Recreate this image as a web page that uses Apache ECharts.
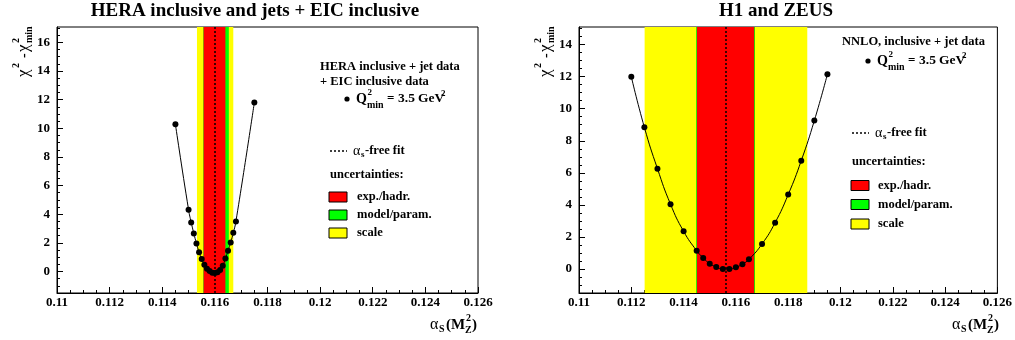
<!DOCTYPE html>
<html lang="en" style="height: 100%">
<head>
<meta charset="utf-8">
<title>alpha_s chi2 scans</title>
</head>
<body style="height: 100%; margin: 0; background: #fff">
<div id="container" style="width: 1015px; height: 340px"></div>

<script type="text/javascript" src="https://cdn.jsdelivr.net/npm/echarts@6/dist/echarts.min.js"></script>

<script type="text/javascript">

// left panel: HERA inclusive and jets + EIC inclusive
var alphaLeft = [0.1145, 0.1150, 0.1151, 0.1152, 0.1153, 0.1154, 0.1155, 0.1156, 0.1157, 0.1158,
                 0.1159, 0.1160, 0.1161, 0.1162, 0.1163, 0.1164, 0.1165, 0.1166, 0.1167, 0.1168, 0.1175];
var chi2Left  = [10.28, 4.31, 3.43, 2.66, 1.96, 1.35, 0.87, 0.47, 0.19, 0.03,
                 -0.08, -0.1, -0.05, 0.1, 0.4, 0.9, 1.45, 2.03, 2.7, 3.5, 11.8];
var fitLeft = 0.11601;
var expLeft = [0.11557, 0.11640];
var modelLeft = [0.11556, 0.11653];
var scaleLeft = [0.11532, 0.11670];

// right panel: H1 and ZEUS
var alphaRight = [0.1120, 0.1125, 0.1130, 0.1135, 0.1140, 0.1145, 0.11475, 0.1150, 0.11525, 0.1155,
                  0.11575, 0.1160, 0.11625, 0.1165, 0.1170, 0.1175, 0.1180, 0.1185, 0.1190, 0.1195];
var chi2Right  = [12.0, 8.84, 6.26, 4.04, 2.35, 1.14, 0.69, 0.33, 0.12, 0.0,
                  0.0, 0.1, 0.3, 0.6, 1.56, 2.89, 4.64, 6.76, 9.26, 12.15];
var fitRight = 0.1156;
var expRight = [0.11451, 0.11670];
var modelRight = [0.11448, 0.11673];
var scaleRight = [0.11251, 0.11873];

// axis ticks
var xTicks = [0.11, 0.112, 0.114, 0.116, 0.118, 0.12, 0.122, 0.124, 0.126];
var yTicksLeft = [0, 2, 4, 6, 8, 10, 12, 14, 16];
var yTicksRight = [0, 2, 4, 6, 8, 10, 12, 14];

var FONT = '"Liberation Serif", "DejaVu Serif", serif';

function steps(a, b, d) {
  var out = [];
  for (var v = a; v <= b + 1e-9; v += d) out.push(+v.toFixed(6));
  return out;
}
var xMinor = steps(0.11, 0.126, 0.0005);
var yMinor = steps(-1.5, 17, 0.5);

function pairs(xs, ys) {
  return xs.map(function (x, i) { return [x, ys[i]]; });
}

var dom = document.getElementById('container');
var myChart = echarts.init(dom, null, {renderer: 'canvas'});

var grids = [
  {left: 57, top: 27, width: 421, height: 266, show: true, borderColor: '#000', borderWidth: 1, backgroundColor: 'transparent'},
  {left: 579, top: 27, width: 421, height: 266, show: true, borderColor: '#000', borderWidth: 1, backgroundColor: 'transparent'}
];

function xAxes(g) {
  return [
    {
      type: 'value', gridIndex: g, min: 0.11, max: 0.126, position: 'bottom',
      axisLine: {show: true, onZero: false, lineStyle: {color: '#000'}},
      axisTick: {inside: true, length: 6, customValues: xTicks, lineStyle: {color: '#000'}},
      axisLabel: {
        customValues: xTicks, color: '#000', fontFamily: FONT, fontWeight: 'bold', fontSize: 13, margin: 3,
        formatter: function (v) { return String(+v.toFixed(3)); }
      },
      splitLine: {show: false}
    },
    {
      type: 'value', gridIndex: g, min: 0.11, max: 0.126, position: 'bottom',
      axisLine: {show: true, onZero: false, lineStyle: {color: '#000', opacity: 0}},
      axisTick: {inside: true, length: 3, customValues: xMinor, lineStyle: {color: '#000'}},
      axisLabel: {show: false},
      splitLine: {show: false}
    }
  ];
}

function yAxes(g, ymax, ticks) {
  return [
    {
      type: 'value', gridIndex: g, min: -1.5, max: ymax, position: 'left',
      axisLine: {show: true, onZero: false, lineStyle: {color: '#000'}},
      axisTick: {inside: true, length: 6, customValues: ticks, lineStyle: {color: '#000'}},
      axisLabel: {customValues: ticks, color: '#000', fontFamily: FONT, fontWeight: 'bold', fontSize: 13, margin: 7},
      splitLine: {show: false}
    },
    {
      type: 'value', gridIndex: g, min: -1.5, max: ymax, position: 'left', offset: 0,
      axisLine: {show: true, onZero: false, lineStyle: {color: '#000', opacity: 0}},
      axisTick: {inside: true, length: 3, customValues: yMinor.filter(function (v) { return v <= ymax; }), lineStyle: {color: '#000'}},
      axisLabel: {show: false},
      splitLine: {show: false}
    }
  ];
}

function bandSeries(xi, yi, scale, model, exp) {
  return {
    type: 'line', xAxisIndex: xi, yAxisIndex: yi, data: [], silent: true,
    markArea: {
      silent: true,
      label: {show: false},
      data: [
        [{xAxis: scale[0], itemStyle: {color: '#ffff00'}}, {xAxis: scale[1]}],
        [{xAxis: model[0], itemStyle: {color: '#00ff00'}}, {xAxis: model[1]}],
        [{xAxis: exp[0], itemStyle: {color: '#ff0000'}}, {xAxis: exp[1]}]
      ]
    }
  };
}

function scanSeries(xi, yi, xs, ys, fit) {
  return {
    type: 'line', xAxisIndex: xi, yAxisIndex: yi, data: pairs(xs, ys),
    smooth: true, symbol: 'circle', symbolSize: 6,
    itemStyle: {color: '#000'}, lineStyle: {color: '#000', width: 1}, z: 5,
    markLine: {
      silent: true, symbol: 'none', precision: 6, label: {show: false},
      lineStyle: {color: '#000', type: [2, 2], width: 1.5},
      data: [{xAxis: fit}]
    }
  };
}

// text helpers for graphic layer
function txt(x, y, s, size, extra) {
  var st = {text: s, x: x, y: y, fill: '#000', font: 'bold ' + size + 'px ' + FONT, textAlign: 'left', textVerticalAlign: 'middle'};
  if (extra) for (var k in extra) st[k] = extra[k];
  return {type: 'text', style: st, z: 100};
}

function legend(L) {
  var els = [];
  L.head.forEach(function (h) { els.push(txt(L.hx, h[1], h[0], 12.5)); });
  var dx = L.dot[0], dy = L.dot[1];
  els.push({type: 'circle', shape: {cx: dx, cy: dy, r: 2.6}, style: {fill: '#000'}, z: 100});
  els.push(txt(dx + 9, dy, 'Q', 14));
  els.push(txt(dx + 20.5, dy - 6, '2', 9));
  els.push(txt(dx + 20, dy + 6, 'min', 10));
  els.push(txt(dx + 40, dy, '=', 13));
  els.push(txt(dx + 51, dy, '3.5', 13.5));
  els.push(txt(dx + 71, dy, 'GeV', 13.5));
  els.push(txt(dx + 94, dy - 5, '2', 9));
  // alpha_s free fit
  els.push({type: 'line', shape: {x1: L.fit[0], y1: L.fit[1], x2: L.fit[0] + 17, y2: L.fit[1]}, style: {stroke: '#000', lineWidth: 1.5, lineDash: [2, 2]}, z: 100});
  var ax = L.fit[0] + 23;
  els.push(txt(ax, L.fit[1], 'α', 14, {font: '14px ' + FONT}));
  els.push(txt(ax + 8, L.fit[1] + 4, 's', 9));
  els.push(txt(ax + 12, L.fit[1], '-free fit', 12.5));
  els.push(txt(L.fit[0], L.unc, 'uncertainties:', 12.5));
  var cols = ['#ff0000', '#00ff00', '#ffff00'];
  var names = ['exp./hadr.', 'model/param.', 'scale'];
  L.box.forEach(function (by, i) {
    els.push({type: 'rect', shape: {x: L.bx, y: by - 5, width: 18, height: 10}, style: {fill: cols[i], stroke: '#000', lineWidth: 1}, z: 100});
    els.push(txt(L.tx, by, names[i], 12.5));
  });
  return els;
}

function yTitle(px, py) {
  return {
    type: 'group', x: px, y: py, rotation: Math.PI / 2, z: 100,
    children: [
      txt(0, 0, 'χ', 17, {font: '17px ' + FONT}),
      txt(9, -8, '2', 10),
      txt(19, 0, '-', 14),
      txt(25, 0, 'χ', 17, {font: '17px ' + FONT}),
      txt(34, -8, '2', 10),
      txt(34, 5, 'min', 10)
    ]
  };
}

function xTitle(px, py) {
  return {
    type: 'group', x: px, y: py, z: 100,
    children: [
      txt(0, 0, 'α', 16, {font: '16px ' + FONT}),
      txt(9, 4, 'S', 10),
      txt(16, 0, '(M', 15),
      txt(36, -7, '2', 10),
      txt(35, 5, 'Z', 10),
      txt(42, 0, ')', 15)
    ]
  };
}

var graphics = [
  txt(255, 11, 'HERA inclusive and jets + EIC inclusive', 19, {textAlign: 'center'}),
  txt(776, 11, 'H1 and ZEUS', 19, {textAlign: 'center'}),
  yTitle(24, 77),
  yTitle(546, 77),
  xTitle(430, 325),
  xTitle(952, 325)
].concat(
  legend({hx: 320, head: [['HERA inclusive + jet data', 67], ['+ EIC inclusive data', 82]],
          dot: [347, 99], fit: [330, 151], unc: 175, bx: 329, tx: 357, box: [197, 215, 233]}),
  legend({hx: 842, head: [['NNLO, inclusive + jet data', 42]],
          dot: [868, 61], fit: [852, 133], unc: 162, bx: 851, tx: 878, box: [185.5, 204.5, 224]})
);

var option = {
  animation: false,
  backgroundColor: '#fff',
  grid: grids,
  xAxis: xAxes(0).concat(xAxes(1)),
  yAxis: yAxes(0, 17.07, yTicksLeft).concat(yAxes(1, 15.1, yTicksRight)),
  series: [
    bandSeries(0, 0, scaleLeft, modelLeft, expLeft),
    scanSeries(0, 0, alphaLeft, chi2Left, fitLeft),
    bandSeries(2, 2, scaleRight, modelRight, expRight),
    scanSeries(2, 2, alphaRight, chi2Right, fitRight)
  ],
  graphic: graphics
};

myChart.setOption(option);
window.addEventListener('resize', myChart.resize);
</script>
</body>
</html>
